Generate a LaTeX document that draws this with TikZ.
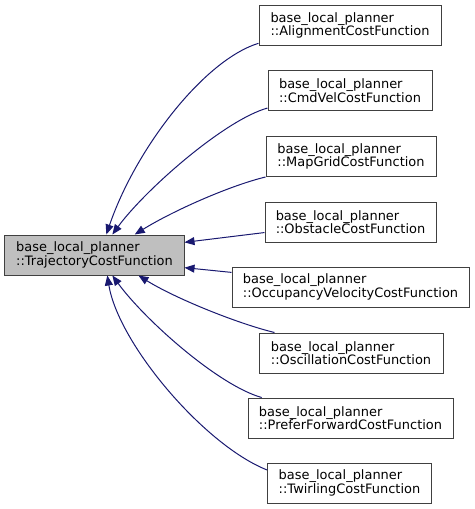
\documentclass[tikz,border=0pt]{standalone}
\usepackage{fontspec}
\setmainfont{DejaVu Sans}
\usepackage{xcolor}
\usetikzlibrary{arrows.meta,positioning,calc}

\definecolor{edgeblue}{HTML}{191970}
\definecolor{basegray}{HTML}{BFBFBF}
\definecolor{boxline}{HTML}{404040}

\tikzset{
  classbox/.style={draw=boxline, line width=1bp, fill=white, align=left,
    inner xsep=6bp, inner ysep=0pt, minimum height=40bp,
    font=\fontsize{13}{13.5}\selectfont},
  basebox/.style={classbox, fill=basegray},
  inherit/.style={draw=edgeblue, line width=1bp,
    -{Triangle[length=10bp,width=8bp,fill=edgeblue]}}
}

\begin{document}
\begin{tikzpicture}[x=1bp,y=-1bp]
\useasboundingbox (0,0) rectangle (475,509);
\node[basebox, minimum width=179bp] (base) at (94.5,255) {base\_local\_planner\\::TrajectoryCostFunction};
\node[classbox, minimum width=182bp] (align) at (350,25.5) {base\_local\_planner\\::AlignmentCostFunction};
\node[classbox, minimum width=164bp] (cmdvel) at (350,90.5) {base\_local\_planner\\::CmdVelCostFunction};
\node[classbox, minimum width=170bp] (mapgrid) at (351,156.5) {base\_local\_planner\\::MapGridCostFunction};
\node[classbox, minimum width=171bp] (obstacle) at (350.5,222) {base\_local\_planner\\::ObstacleCostFunction};
\node[classbox, minimum width=237bp] (occvel) at (350.5,287) {base\_local\_planner\\::OccupancyVelocityCostFunction};
\node[classbox, minimum width=184bp] (oscill) at (351,353) {base\_local\_planner\\::OscillationCostFunction};
\node[classbox, minimum width=205bp] (prefer) at (350.5,418) {base\_local\_planner\\::PreferForwardCostFunction};
\node[classbox, minimum width=164bp] (twirl) at (349.5,483) {base\_local\_planner\\::TwirlingCostFunction};
% edges from derived classes to the base class
\draw[inherit] (align.191) .. controls +(-55,17) and +(29,-85) .. (base.60);
\draw[inherit] (cmdvel.192) .. controls +(-43,12) and +(33,-45) .. (base.49);
\draw[inherit] (mapgrid.south west) .. controls +(-37,9) and +(37,-23) .. (base.27);
\draw[inherit] (obstacle.187) -- (base.8);
\draw[inherit] (occvel.173) -- (base.-8);
\draw[inherit] (oscill.165) .. controls +(-37,-9) and +(37,23) .. (base.-25);
\draw[inherit] (prefer.167) .. controls +(-43,-12) and +(33,45) .. (base.-49);
\draw[inherit] (twirl.171) .. controls +(-63,-25) and +(11,68) .. (base.-58);
\end{tikzpicture}
\end{document}
